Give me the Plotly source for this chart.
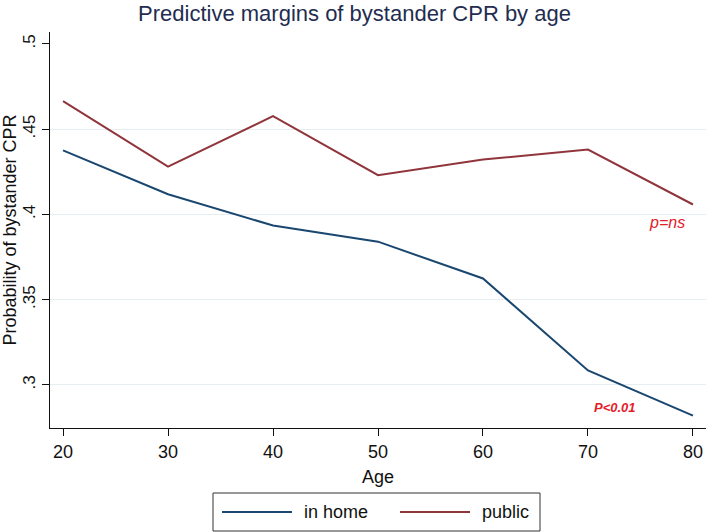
import plotly.graph_objects as go

ages = [20, 30, 40, 50, 60, 70, 80]
in_home = [0.4376, 0.4118, 0.3935, 0.3840, 0.3624, 0.3085, 0.2820]
public = [0.4665, 0.4280, 0.4576, 0.4230, 0.4322, 0.4380, 0.4058]
series_names = ["in home", "public"]
y_ticks = [0.3, 0.35, 0.4, 0.45, 0.5]
y_ticklabels = [".3", ".35", ".4", ".45", ".5"]
grid_vals = [0.3, 0.35, 0.4, 0.45]
x_ticks = [20, 30, 40, 50, 60, 70, 80]

NAVY = "#1a476f"
MAROON = "#90353b"
COLORS = [NAVY, MAROON]
FONT = "Liberation Sans, Arial, sans-serif"

fig = go.Figure()
for name, vals, col in zip(series_names, [in_home, public], COLORS):
    fig.add_trace(go.Scatter(x=ages, y=vals, mode="lines", name=name,
                             showlegend=False, line=dict(color=col, width=2)))
fig.add_trace(go.Scatter(x=[None], y=[None], yaxis="y2", showlegend=False,
                         hoverinfo="skip"))

# custom legend (Stata-style wide keys) in paper coordinates
W, L, T, H = 656.0, 50.0, 32.0, 396.0
def px(x):
    return (x - L) / W
def py(y):
    return (T + H - y) / H

shapes = [dict(type="rect", xref="paper", yref="paper",
               x0=px(213), x1=px(540), y0=py(531), y1=py(493),
               line=dict(color="#333", width=1), fillcolor="white")]
legend_ann = []
key_starts = [222, 400]
for name, col, ks in zip(series_names, COLORS, key_starts):
    shapes.append(dict(type="line", xref="paper", yref="paper",
                       x0=px(ks), x1=px(ks + 70), y0=py(512), y1=py(512),
                       line=dict(color=col, width=2)))
    legend_ann.append(dict(x=px(ks + 80), y=py(512), xref="paper", yref="paper",
                           xanchor="left", yanchor="middle", text=name,
                           showarrow=False, font=dict(size=18, color="#111")))

fig.update_layout(
    width=709, height=532,
    margin=dict(l=50, r=3, t=32, b=104),
    paper_bgcolor="white", plot_bgcolor="white",
    font=dict(family=FONT, color="#111", size=17),
    showlegend=False,
    title=dict(text="Predictive margins of bystander CPR by age",
               x=0.5, xanchor="center", y=0.99, yanchor="top",
               font=dict(size=22, color="#1f2d50")),
    xaxis=dict(range=[18.76, 81.24], tickvals=x_ticks, ticks="outside",
               ticklen=7, tickcolor="#111", showline=True, linecolor="#111",
               linewidth=1, showgrid=False, zeroline=False,
               tickfont=dict(size=18), ticklabeloverflow="allow",
               title=dict(text="Age", font=dict(size=18), standoff=9)),
    yaxis=dict(range=[0.2747, 0.5070], tickvals=y_ticks, ticktext=y_ticklabels,
               ticks="outside", ticklen=7, tickcolor="#111", tickangle=-90,
               showline=True, linecolor="#111", linewidth=1, showgrid=False,
               zeroline=False, tickfont=dict(size=17),
               title=dict(text="Probability of bystander CPR", font=dict(size=18),
                          standoff=6)),
    yaxis2=dict(range=[0.2747, 0.5070], overlaying="y", tickvals=grid_vals,
                showticklabels=False, ticks="", showgrid=True,
                gridcolor="#e6eef1", gridwidth=1, zeroline=False, showline=False),
    shapes=shapes,
    annotations=[
        dict(x=77.5, y=0.3953, xref="x", yref="y", text="<i>p=ns</i>",
             showarrow=False, font=dict(size=16, color="#e3202a")),
        dict(x=72.6, y=0.2865, xref="x", yref="y", text="<b><i>P<0.01</i></b>",
             showarrow=False, font=dict(size=13, color="#e3202a")),
    ] + legend_ann,
)

fig.write_html("out.html", config={"displayModeBar": False},
               post_script="document.body.style.margin='0';document.body.style.overflow='hidden';")
